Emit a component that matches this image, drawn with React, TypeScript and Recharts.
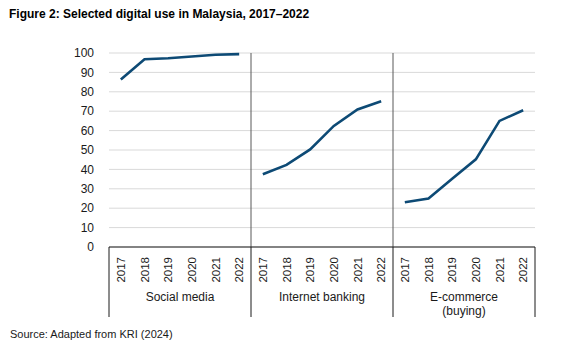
import React from 'react';
import { LineChart, Line, XAxis, YAxis, CartesianGrid, ReferenceLine } from 'recharts';

const years = ['2017', '2018', '2019', '2020', '2021', '2022'];
const groups = ['Social media', 'Internet banking', 'E-commerce\n(buying)'];
const socialMedia = [86.3, 96.8, 97.3, 98.2, 99.1, 99.4];
const internetBanking = [37.5, 42.3, 50.3, 62.4, 70.9, 75.1];
const eCommerce = [23.1, 25.0, 35.2, 45.2, 65.0, 70.5];
const yTicks = [0, 10, 20, 30, 40, 50, 60, 70, 80, 90, 100];

const FONT = '"Liberation Sans", Arial, sans-serif';
const INK = '#1a1a1a';

// one row per year slot, each series only fills its own group
const series = [socialMedia, internetBanking, eCommerce];
const keys = ['social', 'banking', 'ecommerce'];
const data = series.flatMap((vals, g) =>
  vals.map((v, i) => {
    const row: any = { x: g * 6 + i + 0.5, year: years[i] };
    keys.forEach((k, j) => {
      row[k] = j === g ? v : null;
    });
    return row;
  })
);

const yearTicks = data.map(d => d.x);
const boundaryTicks = [0, 6, 12, 18];
const groupTicks = [3, 9, 15];
const allTicks = [...yearTicks, ...boundaryTicks, ...groupTicks];

function AxisTick(props: any) {
  const { x, y, payload } = props;
  const v = payload.value;
  if (boundaryTicks.includes(v)) {
    return <line x1={x} x2={x} y1={y} y2={y + 70} stroke={INK} strokeWidth={1} />;
  }
  if (groupTicks.includes(v)) {
    const lines = groups[groupTicks.indexOf(v)].split('\n');
    return (
      <text x={x} y={y + 54} textAnchor="middle" fontSize={12} fill={INK} fontFamily={FONT}>
        {lines.map((l, i) => (
          <tspan key={i} x={x} dy={i === 0 ? 0 : 14}>{l}</tspan>
        ))}
      </text>
    );
  }
  const row = data.find(d => d.x === v);
  return (
    <text
      x={x}
      y={y + 10}
      transform={`rotate(-90 ${x} ${y + 10})`}
      textAnchor="end"
      dominantBaseline="central"
      fontSize={11.5}
      fill={INK}
      fontFamily={FONT}
    >
      {row ? row.year : ''}
    </text>
  );
}

export default function App() {
  return (
    <div style={{ position: 'absolute', left: 0, top: 0, width: 573, height: 361, background: '#fff', fontFamily: FONT }}>
      <div style={{ position: 'absolute', left: 9, top: 7, fontSize: 12, fontWeight: 'bold', color: '#000' }}>
        Figure 2: Selected digital use in Malaysia, 2017–2022
      </div>
      <div style={{ position: 'absolute', left: 0, top: 0 }}>
        <LineChart width={573} height={330} data={data} margin={{ top: 53, right: 38, bottom: 13, left: 69 }}>
          <CartesianGrid vertical={false} stroke="#d9d9d9" />
          <XAxis
            dataKey="x"
            type="number"
            domain={[0, 18]}
            ticks={allTicks}
            interval={0}
            tick={<AxisTick />}
            tickLine={false}
            tickSize={0}
            tickMargin={0}
            height={70}
            axisLine={{ stroke: INK }}
          />
          <YAxis
            domain={[0, 100]}
            ticks={yTicks}
            interval={0}
            axisLine={false}
            tickLine={false}
            width={40}
            tickMargin={9}
            tick={{ fontSize: 12, fill: INK, fontFamily: FONT }}
          />
          <ReferenceLine x={6} stroke="#595959" />
          <ReferenceLine x={12} stroke="#595959" />
          {keys.map(k => (
            <Line
              key={k}
              dataKey={k}
              type="linear"
              stroke="#0d4a75"
              strokeWidth={2.6}
              dot={false}
              connectNulls={false}
              isAnimationActive={false}
            />
          ))}
        </LineChart>
      </div>
      <div style={{ position: 'absolute', left: 10, top: 328, fontSize: 11, color: INK }}>
        Source: Adapted from KRI (2024)
      </div>
    </div>
  );
}
